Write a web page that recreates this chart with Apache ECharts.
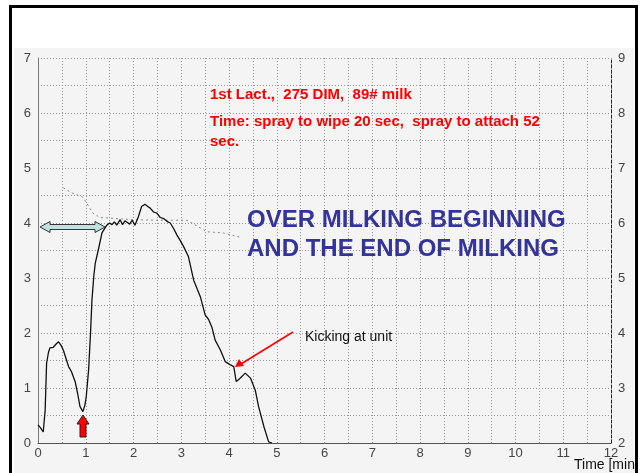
<!DOCTYPE html>
<html>
<head>
<meta charset="UTF-8">
<title>Milk flow</title>
<style>
  html, body { margin: 0; padding: 0; background: #fff; }
  #main { width: 642px; height: 473px; }
</style>
</head>
<body>
<div id="main"></div>
<script src="https://cdn.jsdelivr.net/npm/echarts@6/dist/echarts.min.js"></script>
<script>
// milk flow (kg/min, left axis) against time (min)
var flowTime = [0.0, 0.05, 0.11, 0.15, 0.18, 0.22, 0.25, 0.32, 0.38, 0.43, 0.48, 0.53, 0.6, 0.64, 0.7, 0.78,
  0.83, 0.88, 0.94, 0.98, 1.01, 1.06, 1.1, 1.13, 1.17, 1.2, 1.26, 1.34, 1.44, 1.5, 1.55, 1.6, 1.65, 1.72,
  1.77, 1.82, 1.86, 1.92, 1.97, 2.03, 2.1, 2.17, 2.24, 2.3, 2.35, 2.42, 2.49, 2.56, 2.63, 2.7, 2.77, 2.84,
  2.91, 2.98, 3.05, 3.15, 3.26, 3.4, 3.5, 3.57, 3.64, 3.71, 3.82, 3.92, 4.03, 4.1, 4.15, 4.2, 4.24, 4.34,
  4.45, 4.55, 4.62, 4.73, 4.83, 4.9];
var flowValue = [0.33, 0.28, 0.2, 0.6, 1.45, 1.65, 1.73, 1.74, 1.8, 1.84, 1.78, 1.69, 1.5, 1.39, 1.3, 1.11,
  0.9, 0.66, 0.57, 0.68, 0.84, 1.33, 2.0, 2.6, 3.05, 3.27, 3.5, 3.82, 3.96, 4.0, 3.97, 4.02, 3.96, 4.06,
  3.97, 4.04, 4.06, 3.98, 4.05, 3.96, 4.11, 4.3, 4.34, 4.3, 4.27, 4.2, 4.18, 4.1, 4.08, 4.03, 4.0, 3.9,
  3.78, 3.68, 3.57, 3.39, 2.96, 2.66, 2.33, 2.25, 2.11, 1.87, 1.69, 1.48, 1.42, 1.39, 1.12, 1.15, 1.18, 1.27,
  1.18, 0.96, 0.66, 0.3, 0.02, 0];

// second trace, read on the right axis
var condTime = [0.53, 0.7, 0.94, 1.15, 1.3, 2.0, 2.6, 3.12, 3.54, 3.88, 4.24];
var condValue = [6.64, 6.55, 6.47, 6.18, 6.1, 6.06, 6.05, 6.05, 5.84, 5.82, 5.74];

var font = 'Arial, "Liberation Sans", sans-serif';

function pairs(xs, ys) {
  var out = [];
  for (var i = 0; i < xs.length; i++) out.push([xs[i], ys[i]]);
  return out;
}
function intOnly(v) {
  return Math.abs(v - Math.round(v)) < 1e-6 ? String(Math.round(v)) : '';
}

var chart = echarts.init(document.getElementById('main'));

chart.setOption({
  animation: false,
  backgroundColor: '#ffffff',
  grid: { left: 38, right: 31, top: 58, bottom: 30 },
  xAxis: {
    type: 'value', min: 0, max: 12, interval: 0.5,
    axisLine: { lineStyle: { color: '#555', width: 1 } },
    axisTick: { show: false },
    axisLabel: { formatter: intOnly, color: '#444', fontFamily: font, fontSize: 13, margin: 4 },
    splitLine: { show: true, lineStyle: { color: '#9a9a9a', type: [1, 2], width: 1 } }
  },
  yAxis: [{
    type: 'value', min: 0, max: 7, interval: 0.5,
    axisLine: { show: true, lineStyle: { color: '#777', width: 1 } },
    axisTick: { show: false },
    axisLabel: { formatter: intOnly, color: '#444', fontFamily: font, fontSize: 13, margin: 7 },
    splitLine: { show: true, lineStyle: { color: '#9a9a9a', type: [1, 2], width: 1 } }
  }, {
    type: 'value', min: 2, max: 9, interval: 0.5, position: 'right',
    axisLine: { show: true, lineStyle: { color: '#222', width: 1, type: [3, 2] } },
    axisTick: { show: false },
    axisLabel: { formatter: intOnly, color: '#444', fontFamily: font, fontSize: 13, margin: 7 },
    splitLine: { show: false }
  }],
  series: [{
    type: 'line', yAxisIndex: 1, showSymbol: false, silent: true,
    data: pairs(condTime, condValue),
    lineStyle: { color: '#8a8a8a', width: 1, type: [2, 3] }
  }, {
    type: 'line', yAxisIndex: 0, showSymbol: false, silent: true,
    data: pairs(flowTime, flowValue),
    lineStyle: { color: '#111', width: 1.3 }
  }],
  graphic: [
    { type: 'rect', z: -10, silent: true, shape: { x: 14, y: 48, width: 620, height: 430 },
      style: { fill: '#f4f4f4' } },
    { type: 'text', left: 210, top: 87, z: 20,
      style: { text: '1st Lact.,  275 DIM,  89# milk', fill: '#ff0000', font: 'bold 15px ' + font } },
    { type: 'text', left: 210, top: 112, z: 20,
      style: { text: 'Time: spray to wipe 20 sec,  spray to attach 52\nsec.', fill: '#ff0000',
        font: 'bold 15px ' + font, lineHeight: 20 } },
    { type: 'text', left: 247, top: 206, z: 20,
      style: { text: 'OVER MILKING BEGINNING\nAND THE END OF MILKING', fill: '#333399',
        font: 'bold 24px ' + font, lineHeight: 29 } },
    { type: 'text', left: 305, top: 330, z: 20,
      style: { text: 'Kicking at unit', fill: '#111', font: '14px ' + font } },
    { type: 'line', z: 20, shape: { x1: 293, y1: 332, x2: 241, y2: 364 },
      style: { stroke: '#ff0000', lineWidth: 1.5 } },
    { type: 'polygon', z: 20, shape: { points: [[235, 367], [239, 359], [244, 366]] },
      style: { fill: '#ff0000' } },
    { type: 'polygon', z: 20,
      shape: { points: [[83, 415], [77, 424], [80, 424], [80, 437], [86, 437], [86, 424], [89, 424]] },
      style: { fill: '#ff0000', stroke: '#222', lineWidth: 1 } },
    { type: 'polygon', z: 20,
      shape: { points: [[40, 227], [50, 221.5], [50, 224.5], [95, 224.5], [95, 221.5], [105, 227],
        [95, 232.5], [95, 229.5], [50, 229.5], [50, 232.5]] },
      style: { fill: '#bfe2e0', stroke: '#333', lineWidth: 1 } },
    { type: 'text', left: 574, top: 458, z: 20,
      style: { text: 'Time [min]', fill: '#111', font: '14px ' + font } },
    { type: 'rect', z: 30, silent: true, shape: { x: 10.5, y: 6.5, width: 626, height: 480 },
      style: { fill: null, stroke: '#000', lineWidth: 3 } }
  ]
});
</script>
</body>
</html>
